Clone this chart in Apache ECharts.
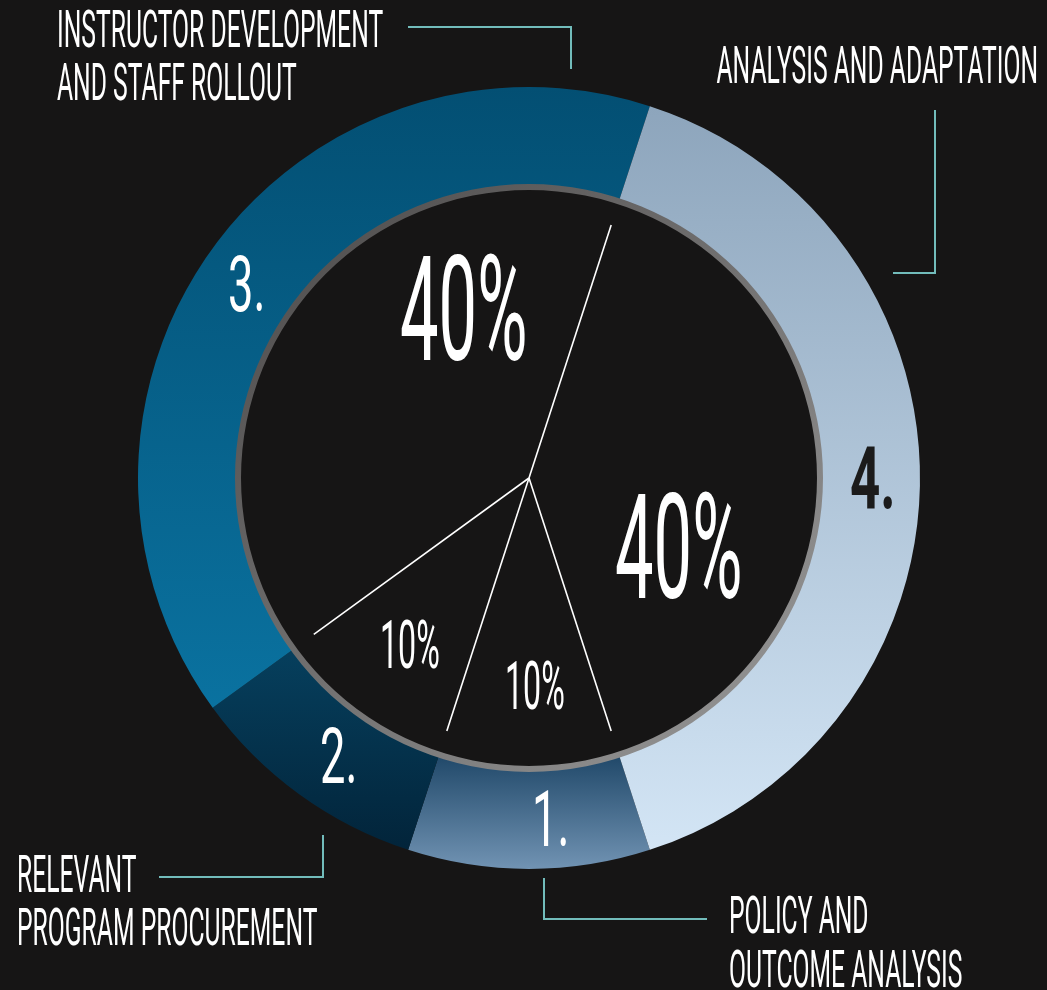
<!DOCTYPE html>
<html>
<head>
<meta charset="utf-8">
<script src="https://cdn.jsdelivr.net/npm/echarts@6/dist/echarts.min.js"></script>
<style>
  html, body { margin: 0; padding: 0; background: #161515; }
  #myChart { width: 1047px; height: 990px; }
</style>
</head>
<body>
<div id="myChart"></div>
<script>
// data
var steps = ['1.', '2.', '3.', '4.']
var stepNames = ['POLICY AND\nOUTCOME ANALYSIS', 'RELEVANT\nPROGRAM PROCUREMENT', 'INSTRUCTOR DEVELOPMENT\nAND STAFF ROLLOUT', 'ANALYSIS AND ADAPTATION']
var shares = [10, 10, 40, 40]
var shareLabels = ['10%', '10%', '40%', '40%']

var cx = 529
var cy = 478
var startAngle = 288
var font = 'Roboto, "Liberation Sans", sans-serif'

var ringColors = [
  ['#21496a', '#7193b3'],
  ['#063f5d', '#02243a'],
  ['#034f73', '#0a72a0'],
  ['#8da5bc', '#d3e5f5']
]

function grad(c) {
  return new echarts.graphic.LinearGradient(0, 0, 0, 1, [
    { offset: 0, color: c[0] },
    { offset: 1, color: c[1] }
  ])
}

// condensed text: scale a normal face horizontally, y = middle of the caps
function txt(text, x, y, size, sx, opts) {
  opts = opts || {}
  return {
    type: 'text',
    x: x,
    y: y + size * 0.07,
    scaleX: sx,
    z: 10,
    style: {
      text: text,
      fill: opts.color || '#ffffff',
      font: (opts.weight || 'normal') + ' ' + size + 'px ' + font,
      textAlign: opts.align || 'left',
      textVerticalAlign: 'middle'
    }
  }
}

function poly(points) {
  return {
    type: 'polyline',
    z: 10,
    shape: { points: points },
    style: { stroke: '#72bcbb', lineWidth: 2, fill: null }
  }
}

var myChart = echarts.init(document.getElementById('myChart'))

// radial divider lines inside the hole, at the same boundaries as the ring
var graphics = []
var total = shares.reduce(function(a, b) { return a + b }, 0)
var acc = 0
shares.forEach(function(v) {
  var a = (startAngle - acc / total * 360) * Math.PI / 180
  graphics.push({
    type: 'line',
    z: 5,
    shape: { x1: cx, y1: cy, x2: cx + 266 * Math.cos(a), y2: cy - 266 * Math.sin(a) },
    style: { stroke: '#ffffff', lineWidth: 1.6 }
  })
  acc += v
})

var n0 = stepNames[0].split('\n')
var n1 = stepNames[1].split('\n')
var n2 = stepNames[2].split('\n')

graphics = graphics.concat([
  // outside names
  txt(n2[0], 57, 30, 52, 0.475),
  txt(n2[1], 57, 83, 52, 0.475),
  txt(stepNames[3], 1038, 66, 52, 0.475, { align: 'right' }),
  txt(n1[0], 17, 875, 52, 0.475),
  txt(n1[1], 17, 928, 52, 0.475),
  txt(n0[0], 729, 916, 52, 0.475),
  txt(n0[1], 729, 970, 52, 0.475),
  // connectors
  poly([[408, 27], [571, 27], [571, 69]]),
  poly([[935, 110], [935, 273], [893, 273]]),
  poly([[159, 877], [323, 877], [323, 835]]),
  poly([[707, 919], [544, 919], [544, 878]]),
  // step numbers on the ring
  txt(steps[0], 532, 821, 78, 0.58),
  txt(steps[1], 320, 758, 78, 0.58),
  txt(steps[2], 228, 286, 78, 0.58),
  txt(steps[3], 850, 481, 88, 0.6, { color: '#1b1b1b', weight: 'bold' }),
  // shares in the hole
  txt(shareLabels[2], 400, 313, 146, 0.47),
  txt(shareLabels[3], 615, 551, 146, 0.47),
  txt(shareLabels[1], 380, 647, 67, 0.48),
  txt(shareLabels[0], 505, 688, 67, 0.48)
])

var option = {
  backgroundColor: '#161515',
  animation: false,
  series: [
    {
      type: 'pie',
      center: [cx, cy],
      radius: [293, 391],
      startAngle: startAngle,
      clockwise: true,
      silent: true,
      label: { show: false },
      labelLine: { show: false },
      itemStyle: { borderWidth: 0 },
      data: shares.map(function(v, i) {
        return { name: steps[i], value: v, itemStyle: { color: grad(ringColors[i]) } }
      })
    },
    {
      // grey rim on the inside of the ring
      type: 'pie',
      center: [cx, cy],
      radius: [288, 294],
      silent: true,
      label: { show: false },
      labelLine: { show: false },
      data: [{
        value: 1,
        itemStyle: {
          color: new echarts.graphic.LinearGradient(0, 0, 1, 1, [
            { offset: 0, color: '#4a4848' },
            { offset: 1, color: '#9a9a9a' }
          ])
        }
      }]
    }
  ],
  graphic: graphics
}
myChart.setOption(option)
window.addEventListener('resize', function() {
  myChart.resize()
})
</script>
</body>
</html>
